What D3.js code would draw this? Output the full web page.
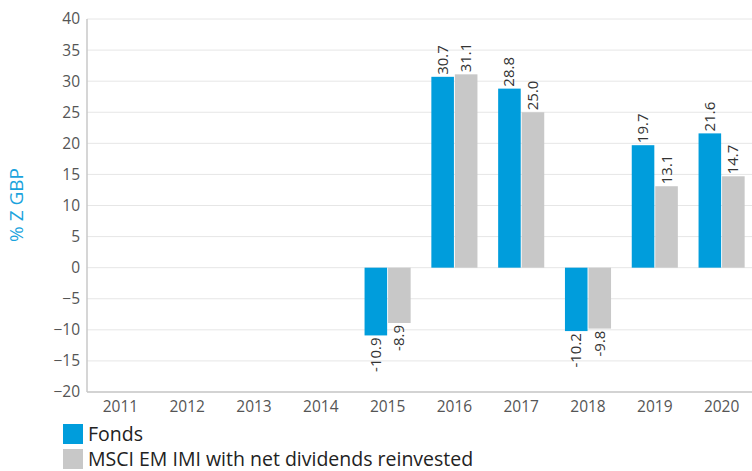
<!DOCTYPE html>
<html><head><meta charset="utf-8">
<script src="https://cdn.jsdelivr.net/npm/d3@7"></script>
<style>body{margin:0;background:#fff;}svg{display:block;font-family:"Open Sans",sans-serif;}</style>
</head><body><svg id="c" width="752" height="471"></svg>
<script>
const years = ["2011","2012","2013","2014","2015","2016","2017","2018","2019","2020"];
const fonds = [null,null,null,null,-10.9,30.7,28.8,-10.2,19.7,21.6];
const msci  = [null,null,null,null,-8.9,31.1,25.0,-9.8,13.1,14.7];
const seriesNames = ["Fonds","MSCI EM IMI with net dividends reinvested"];
const yTicks = [-20,-15,-10,-5,0,5,10,15,20,25,30,35,40];
const colors = ["#009ddc","#c8c8c8"];

const svg = d3.select("#c");
const m = {l:87, r:-3, t:19, b:79};
const W = 752, H = 471;
const x = d3.scaleBand().domain(years).range([m.l, W - m.r]).paddingInner(0.31).paddingOuter(0.155);
const xs = d3.scaleBand().domain([0,1]).range([0, x.bandwidth()]).paddingInner(0.04);
const y = d3.scaleLinear().domain([-20,40]).range([H - m.b, m.t]);

// gridlines
svg.append("g").selectAll("line").data(yTicks).join("line")
  .attr("x1", m.l).attr("x2", W).attr("y1", d=>y(d)).attr("y2", d=>y(d))
  .attr("stroke", "#e6e6e6").attr("stroke-width", 1);

// y axis labels
const yAxis = d3.axisLeft(y).tickValues(yTicks).tickSize(0).tickPadding(7);
const gy = svg.append("g").attr("transform", `translate(${m.l},0)`).call(yAxis);
gy.select(".domain").remove();
gy.selectAll("text").attr("fill", "#555").style("font-size", "15.5px").style("font-family","'Open Sans',sans-serif");

// axes lines
svg.append("line").attr("x1", m.l).attr("x2", m.l).attr("y1", y(40)).attr("y2", y(-20)).attr("stroke","#c8c8c8").attr("stroke-width",1.5);
svg.append("line").attr("x1", m.l).attr("x2", W).attr("y1", y(-20)).attr("y2", y(-20)).attr("stroke","#c8c8c8").attr("stroke-width",1.5);

// x axis
const xAxis = d3.axisBottom(x).tickSize(0).tickPadding(9);
const gx = svg.append("g").attr("transform", `translate(0,${y(-20)})`).call(xAxis);
gx.select(".domain").remove();
gx.selectAll("text").attr("fill", "#555").style("font-size", "15.5px").style("font-family","'Open Sans',sans-serif");

// bars
const data = [];
years.forEach((yr,i)=>{
  [fonds[i], msci[i]].forEach((v,s)=>{ if(v!==null) data.push({yr, s, v}); });
});
svg.append("g").selectAll("rect").data(data).join("rect")
  .attr("x", d=>x(d.yr)+xs(d.s))
  .attr("width", xs.bandwidth())
  .attr("y", d=>y(Math.max(0,d.v)))
  .attr("height", d=>Math.abs(y(d.v)-y(0)))
  .attr("fill", d=>colors[d.s]);

// labels
svg.append("g").selectAll("text").data(data).join("text")
  .attr("transform", d=>{
    const cx = x(d.yr)+xs(d.s)+xs.bandwidth()/2;
    const yy = d.v>=0 ? y(d.v)-2 : y(d.v)+2;
    return `translate(${cx+5},${yy}) rotate(-90)`;
  })
  .attr("text-anchor", d=>d.v>=0?"start":"end")
  .attr("fill","#333").style("font-size","15px")
  .text(d=>d.v.toFixed(1));

// y title
svg.append("text").attr("transform", `translate(23,205) rotate(-90)`)
  .attr("text-anchor","middle").attr("fill","#1aa3dd").style("font-size","19px").text("% Z GBP");

// legend
const lg = svg.append("g").selectAll("g").data(seriesNames).join("g")
  .attr("transform",(d,i)=>`translate(63,${424+i*25})`);
lg.append("rect").attr("width",20).attr("height",20).attr("fill",(d,i)=>colors[i]);
lg.append("text").attr("x",25).attr("y",17).attr("fill","#222").style("font-size","19.5px").text(d=>d);
</script></body></html>
